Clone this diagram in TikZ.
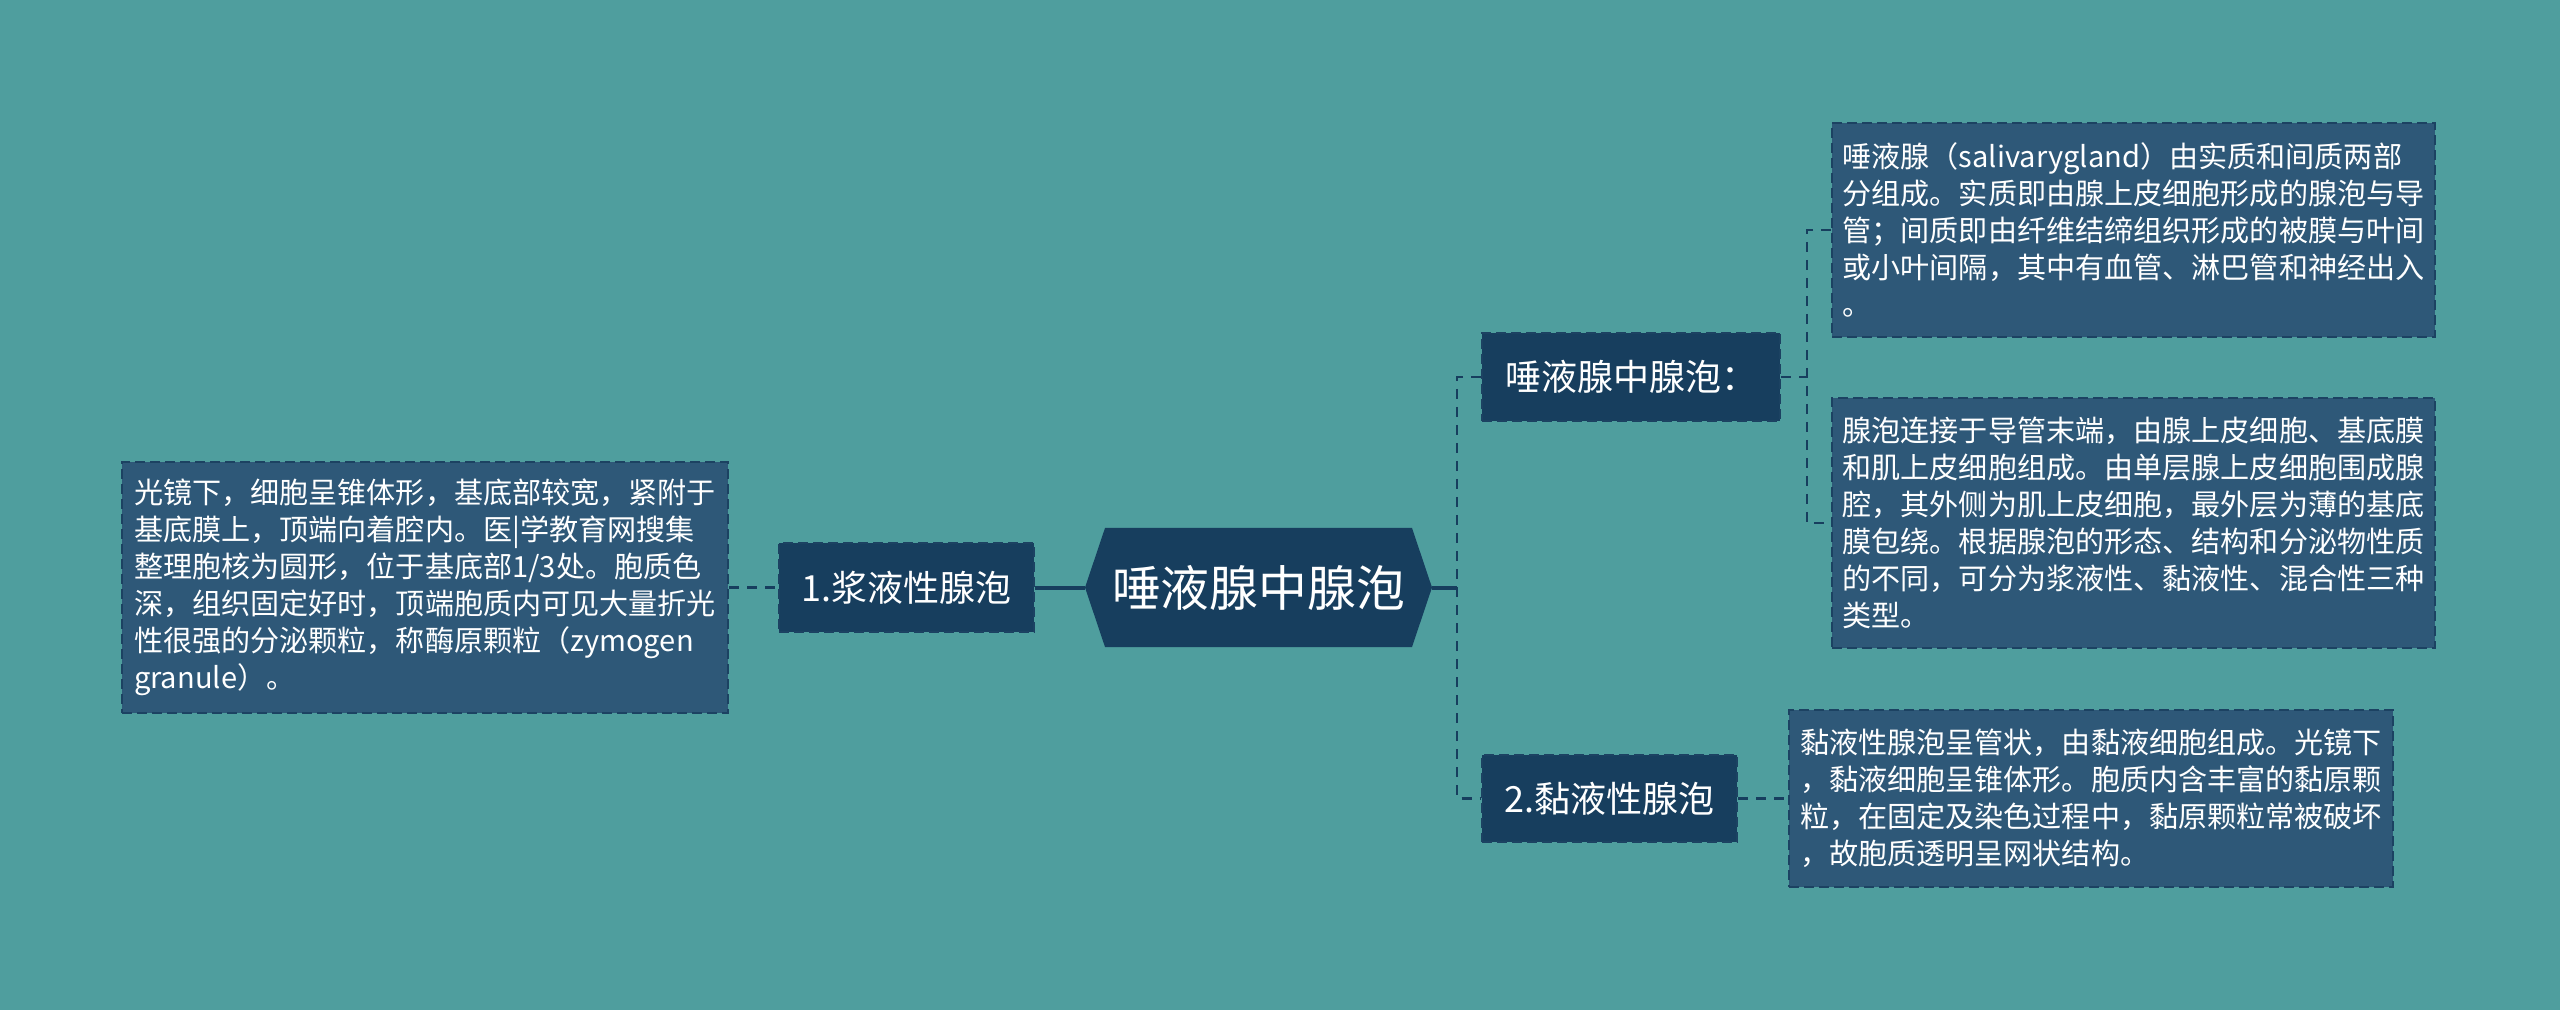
\documentclass[tikz,border=0pt]{standalone}
\usepackage{fontspec}
\setmainfont{Noto Sans CJK SC}
\definecolor{bgteal}{HTML}{4F9E9E}
\definecolor{navy}{HTML}{173E5E}
\definecolor{boxblue}{HTML}{2E5878}
\definecolor{boxline}{HTML}{1C4262}
\begin{document}
\begin{tikzpicture}[x=0.5pt,y=-0.5pt,
  txtbox/.style={fill=boxblue,draw=boxline,line width=1pt,dash pattern=on 5pt off 2.5pt,
    align=left,inner sep=0pt,text=white,font=\fontsize{14.55pt}{18.5pt}\selectfont},
  midbox/.style={fill=navy,draw=boxline,line width=1pt,dash pattern=on 5pt off 2.5pt,
    inner sep=0pt,text=white,font=\fontsize{18pt}{22pt}\selectfont},
  dashline/.style={draw=navy,line width=1.1pt,dash pattern=on 5pt off 4pt},
  solidline/.style={draw=navy,line width=2pt}]
\fill[bgteal] (0,0) rectangle (2560,1010);
\useasboundingbox (0,0) rectangle (2560,1010);
% root hexagon
\fill[navy] (1085,587.5) -- (1105,528) -- (1412,528) -- (1432,587.5) -- (1412,647) -- (1105,647) -- cycle;
\node[text=white,inner sep=0pt,minimum width=173.5pt,minimum height=59.5pt,font=\fontsize{24.4pt}{28pt}\selectfont] (root) at (1258.5,587.5) {唾液腺中腺泡};
% mid nodes
\node[midbox,minimum width=127.5pt,minimum height=44.5pt] (n1) at (906.5,587.5) {1.浆液性腺泡};
\node[midbox,minimum width=149pt,minimum height=44pt] (n2) at (1631,377) {唾液腺中腺泡：};
\node[midbox,minimum width=127.5pt,minimum height=43.5pt] (n3) at (1609.5,798.5) {2.黏液性腺泡};
% text boxes
\node[txtbox,minimum width=303pt,minimum height=125.5pt] (t1) at (425,587.5) {%
光镜下，细胞呈锥体形，基底部较宽，紧附于\\
基底膜上，顶端向着腔内。医|学教育网搜集\\
整理胞核为圆形，位于基底部1/3处。胞质色\\
深，组织固定好时，顶端胞质内可见大量折光\\
性很强的分泌颗粒，称酶原颗粒（zymogen\\
granule）。};
\node[txtbox,minimum width=301.5pt,minimum height=107pt] (t2) at (2133.5,230) {%
唾液腺（salivarygland）由实质和间质两部\\
分组成。实质即由腺上皮细胞形成的腺泡与导\\
管；间质即由纤维结缔组织形成的被膜与叶间\\
或小叶间隔，其中有血管、淋巴管和神经出入\\
。};
\node[txtbox,minimum width=301.5pt,minimum height=125pt] (t3) at (2133.5,523) {%
腺泡连接于导管末端，由腺上皮细胞、基底膜\\
和肌上皮细胞组成。由单层腺上皮细胞围成腺\\
腔，其外侧为肌上皮细胞，最外层为薄的基底\\
膜包绕。根据腺泡的形态、结构和分泌物性质\\
的不同，可分为浆液性、黏液性、混合性三种\\
类型。};
\node[txtbox,minimum width=302pt,minimum height=88.5pt] (t4) at (2091,798.5) {%
黏液性腺泡呈管状，由黏液细胞组成。光镜下\\
，黏液细胞呈锥体形。胞质内含丰富的黏原颗\\
粒，在固定及染色过程中，黏原颗粒常被破坏\\
，故胞质透明呈网状结构。};
% junctions
\coordinate (j1) at (1457,587.5);
\coordinate (j2) at (1807,377);
% connectors
\draw[dashline] (t1.east) -- (n1.west);
\draw[solidline] (n1.east) -- (root.west);
\draw[solidline] (root.east) -- (j1);
\draw[dashline] (n2.west) -| (j1) |- (n3.west);
\draw[dashline] (n2.east) -- (j2);
\draw[dashline] (t2.west) -| (j2) |- (t3.west);
\draw[dashline] (n3.east) -- (t4.west);
\end{tikzpicture}
\end{document}
